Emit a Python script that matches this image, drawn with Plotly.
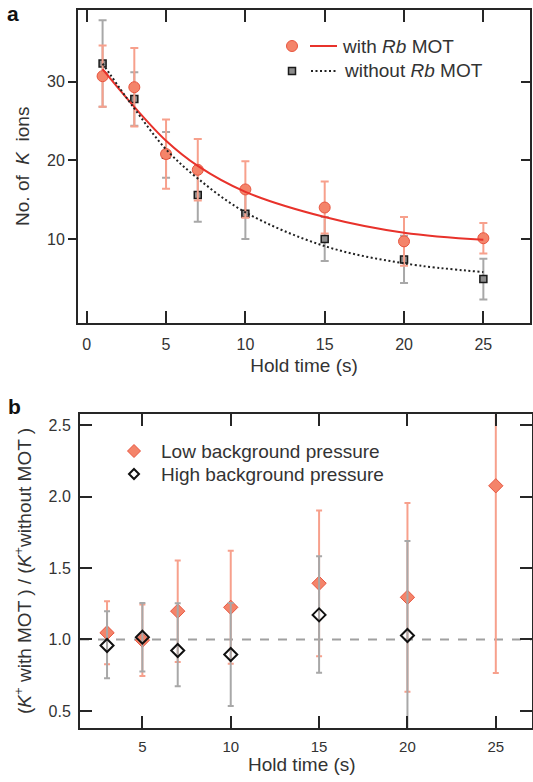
import plotly.graph_objects as go
from plotly.subplots import make_subplots

# ---- panel a: number of K ions vs hold time ----
hold_a = [1, 3, 5, 7, 10, 15, 20, 25]
with_mot = [30.7, 29.3, 20.8, 18.8, 16.3, 14.0, 9.7, 10.1]
with_mot_err = [3.9, 5.0, 4.4, 3.9, 3.6, 3.3, 3.1, 1.95]
without_mot = [32.3, 27.8, 20.7, 15.6, 13.2, 10.0, 7.4, 4.9]
without_mot_err = [5.5, 3.4, 2.9, 3.4, 3.2, 2.8, 3.0, 2.6]

# fitted decay curves
fit_t = [1, 3, 5, 7, 10, 15, 20, 25]
fit_with = [31.6, 26.8, 22.5, 19.3, 16.0, 12.8, 10.8, 9.9]
fit_without = [32.3, 26.6, 21.4, 17.7, 13.4, 9.1, 6.9, 5.8]

# ---- panel b: ratio with / without MOT ----
hold_low = [3, 5, 7, 10, 15, 20, 25]
ratio_low = [1.047, 0.995, 1.198, 1.225, 1.393, 1.295, 2.075]
ratio_low_err = [0.22, 0.25, 0.355, 0.395, 0.51, 0.66, 1.31]
hold_high = [3, 5, 7, 10, 15, 20]
ratio_high = [0.958, 1.016, 0.923, 0.895, 1.172, 1.028]
ratio_high_up = [0.24, 0.24, 0.33, 0.36, 0.41, 0.66]
ratio_high_down = [0.23, 0.24, 0.25, 0.36, 0.405, 0.66]

ticks_a_x = [0, 5, 10, 15, 20, 25]
ticks_a_y = [10, 20, 30]
ticks_b_x = [5, 10, 15, 20, 25]
ticks_b_y = [0.5, 1.0, 1.5, 2.0, 2.5]

W, H = 533, 782
FONT = "Liberation Sans, Arial, sans-serif"
AX = "#262626"
SALMON = "#F4846A"
SALMON_EDGE = "#E8553F"
SALMON_ERR = "#F7A08C"
RED = "#E8322B"
GRAY = "#8C8C8C"
GRAY_ERR = "#A8A8A8"


def px_x(p):
    return p / W


def px_y(p):
    return 1 - p / H


fig = make_subplots(rows=2, cols=1)

# panel a
fig.add_trace(go.Scatter(
    x=hold_a, y=without_mot, mode="markers",
    error_y=dict(type="data", array=without_mot_err, color=GRAY_ERR, thickness=2, width=4),
    marker=dict(symbol="square", size=7, color=GRAY, line=dict(color="#1a1a1a", width=1.5)),
), row=1, col=1)
fig.add_trace(go.Scatter(
    x=hold_a, y=with_mot, mode="markers",
    error_y=dict(type="data", array=with_mot_err, color=SALMON_ERR, thickness=2, width=4),
    marker=dict(symbol="circle", size=11, color=SALMON, line=dict(color=SALMON_EDGE, width=1)),
), row=1, col=1)
fig.add_trace(go.Scatter(
    x=fit_t, y=fit_with, mode="lines",
    line=dict(color=RED, width=2, shape="spline", smoothing=1.0),
), row=1, col=1)
fig.add_trace(go.Scatter(
    x=fit_t, y=fit_without, mode="lines", yaxis="y3",
    line=dict(color="#222222", width=2, dash="2px,2.5px", shape="spline", smoothing=1.0),
))

# panel b
fig.add_trace(go.Scatter(
    x=hold_low, y=ratio_low, mode="markers",
    error_y=dict(type="data", array=ratio_low_err, color=SALMON_ERR, thickness=2, width=3),
    marker=dict(symbol="diamond", size=11, color=SALMON, line=dict(color=SALMON_EDGE, width=1)),
), row=2, col=1)
fig.add_trace(go.Scatter(
    x=hold_high, y=ratio_high, mode="markers",
    error_y=dict(type="data", symmetric=False, array=ratio_high_up, arrayminus=ratio_high_down,
                 color=GRAY_ERR, thickness=2, width=3),
    marker=dict(symbol="diamond-open", size=10, color="#111111", line=dict(width=2)),
), row=2, col=1)

axis_common = dict(
    showgrid=False, zeroline=False, showline=True, linecolor=AX, linewidth=2,
    tickcolor=AX, tickwidth=2, tickfont=dict(family=FONT, size=16, color="#333333"),
)

fig.update_layout(
    width=W, height=H, margin=dict(l=0, r=0, t=0, b=0),
    paper_bgcolor="white", plot_bgcolor="white", showlegend=False,
    font=dict(family=FONT, color="#333333"),
    xaxis=dict(axis_common, domain=[px_x(78), px_x(530)], range=[-0.55, 27.94],
               tickvals=ticks_a_x, ticks="inside", ticklen=12, mirror="ticks",
               ticklabelstandoff=6,
               title=dict(text="Hold time (s)", font=dict(size=19), standoff=6)),
    yaxis=dict(axis_common, domain=[px_y(323), px_y(9.5)], range=[-0.68, 39.18],
               tickvals=ticks_a_y, ticks="outside", ticklen=8, mirror=True,
               title=dict(text="No. of&nbsp; <i>K</i> &nbsp;ions", font=dict(size=19), standoff=12)),
    yaxis3=dict(overlaying="y", side="right", anchor="x", matches="y", range=[-0.68, 39.18],
                showgrid=False, zeroline=False, showline=False, tickvals=ticks_a_y,
                ticks="inside", ticklen=9, tickwidth=2, tickcolor=AX, showticklabels=False),
    xaxis2=dict(axis_common, domain=[px_x(80), px_x(531.5)], range=[1.47, 27.02],
                tickvals=ticks_b_x, ticks="inside", ticklen=12, mirror="ticks",
                ticklabelstandoff=4, tickfont=dict(family=FONT, size=15, color="#333333")),
    yaxis2=dict(axis_common, domain=[px_y(727.7), px_y(414.3)], range=[0.383, 2.575],
                tickvals=ticks_b_y, tickformat=".1f", ticks="inside", ticklen=12, mirror="ticks",
                ticklabelstandoff=4,
                title=dict(text="(<i>K</i><sup>+</sup> with MOT ) / (<i>K</i><sup>+</sup>without MOT )",
                           font=dict(size=19), standoff=12)),
)

# x title of panel b sits tight under its tick labels
fig.add_annotation(text="Hold time (s)", x=px_x(302), y=px_y(764), xref="paper", yref="paper",
                   xanchor="center", yanchor="middle", showarrow=False,
                   font=dict(size=19, color="#333333"))

# reference line at ratio 1
fig.add_shape(type="line", xref="x2 domain", yref="y2", x0=0, x1=1, y0=1, y1=1,
              line=dict(color="#A0A0A0", width=2, dash="dash"), layer="below")

# panel labels
fig.add_annotation(text="<b>a</b>", x=px_x(13), y=1, xref="paper", yref="paper",
                   xanchor="center", yanchor="top",
                   showarrow=False, font=dict(size=21, color="#111111"))
fig.add_annotation(text="<b>b</b>", x=px_x(14), y=px_y(406), xref="paper", yref="paper",
                   xanchor="center", yanchor="middle",
                   showarrow=False, font=dict(size=21, color="#111111"))

# legend, panel a
fig.add_shape(type="circle", xref="paper", yref="paper", xsizemode="pixel", ysizemode="pixel",
              xanchor=px_x(292), yanchor=px_y(46), x0=-5.5, x1=5.5, y0=-5.5, y1=5.5,
              fillcolor=SALMON, line=dict(color=SALMON_EDGE, width=1))
fig.add_shape(type="line", xref="paper", yref="paper", x0=px_x(310), x1=px_x(337),
              y0=px_y(46), y1=px_y(46), line=dict(color=RED, width=2))
fig.add_shape(type="rect", xref="paper", yref="paper", xsizemode="pixel", ysizemode="pixel",
              xanchor=px_x(292), yanchor=px_y(71), x0=-3.5, x1=3.5, y0=-3.5, y1=3.5,
              fillcolor=GRAY, line=dict(color="#1a1a1a", width=1.5))
fig.add_shape(type="line", xref="paper", yref="paper", x0=px_x(311), x1=px_x(337),
              y0=px_y(71), y1=px_y(71), line=dict(color="#222222", width=2, dash="2px,2.5px"))
fig.add_annotation(text="with <i>Rb</i> MOT", x=px_x(340), y=px_y(46), xref="paper", yref="paper",
                   xanchor="left", yanchor="middle", showarrow=False, font=dict(size=19, color="#333333"))
fig.add_annotation(text="without <i>Rb</i> MOT", x=px_x(342), y=px_y(71), xref="paper", yref="paper",
                   xanchor="left", yanchor="middle", showarrow=False, font=dict(size=19, color="#333333"))

# legend, panel b
diamond = "M 0,6.5 L 6.5,0 L 0,-6.5 L -6.5,0 Z"
fig.add_shape(type="path", xref="paper", yref="paper", xsizemode="pixel", ysizemode="pixel",
              xanchor=px_x(134), yanchor=px_y(451), path=diamond,
              fillcolor=SALMON, line=dict(color=SALMON_EDGE, width=1))
fig.add_shape(type="path", xref="paper", yref="paper", xsizemode="pixel", ysizemode="pixel",
              xanchor=px_x(134), yanchor=px_y(474), path="M 0,5 L 5,0 L 0,-5 L -5,0 Z",
              fillcolor="white", line=dict(color="#111111", width=2))
fig.add_annotation(text="Low background pressure", x=px_x(159), y=px_y(451), xref="paper", yref="paper",
                   xanchor="left", yanchor="middle", showarrow=False, font=dict(size=19, color="#333333"))
fig.add_annotation(text="High background pressure", x=px_x(159), y=px_y(474), xref="paper", yref="paper",
                   xanchor="left", yanchor="middle", showarrow=False, font=dict(size=19, color="#333333"))

# drop the default page margin so the figure sits at the window's top-left corner
fig.write_html("out.html", config={"displayModeBar": False},
               post_script="document.body.style.margin = '0';")
